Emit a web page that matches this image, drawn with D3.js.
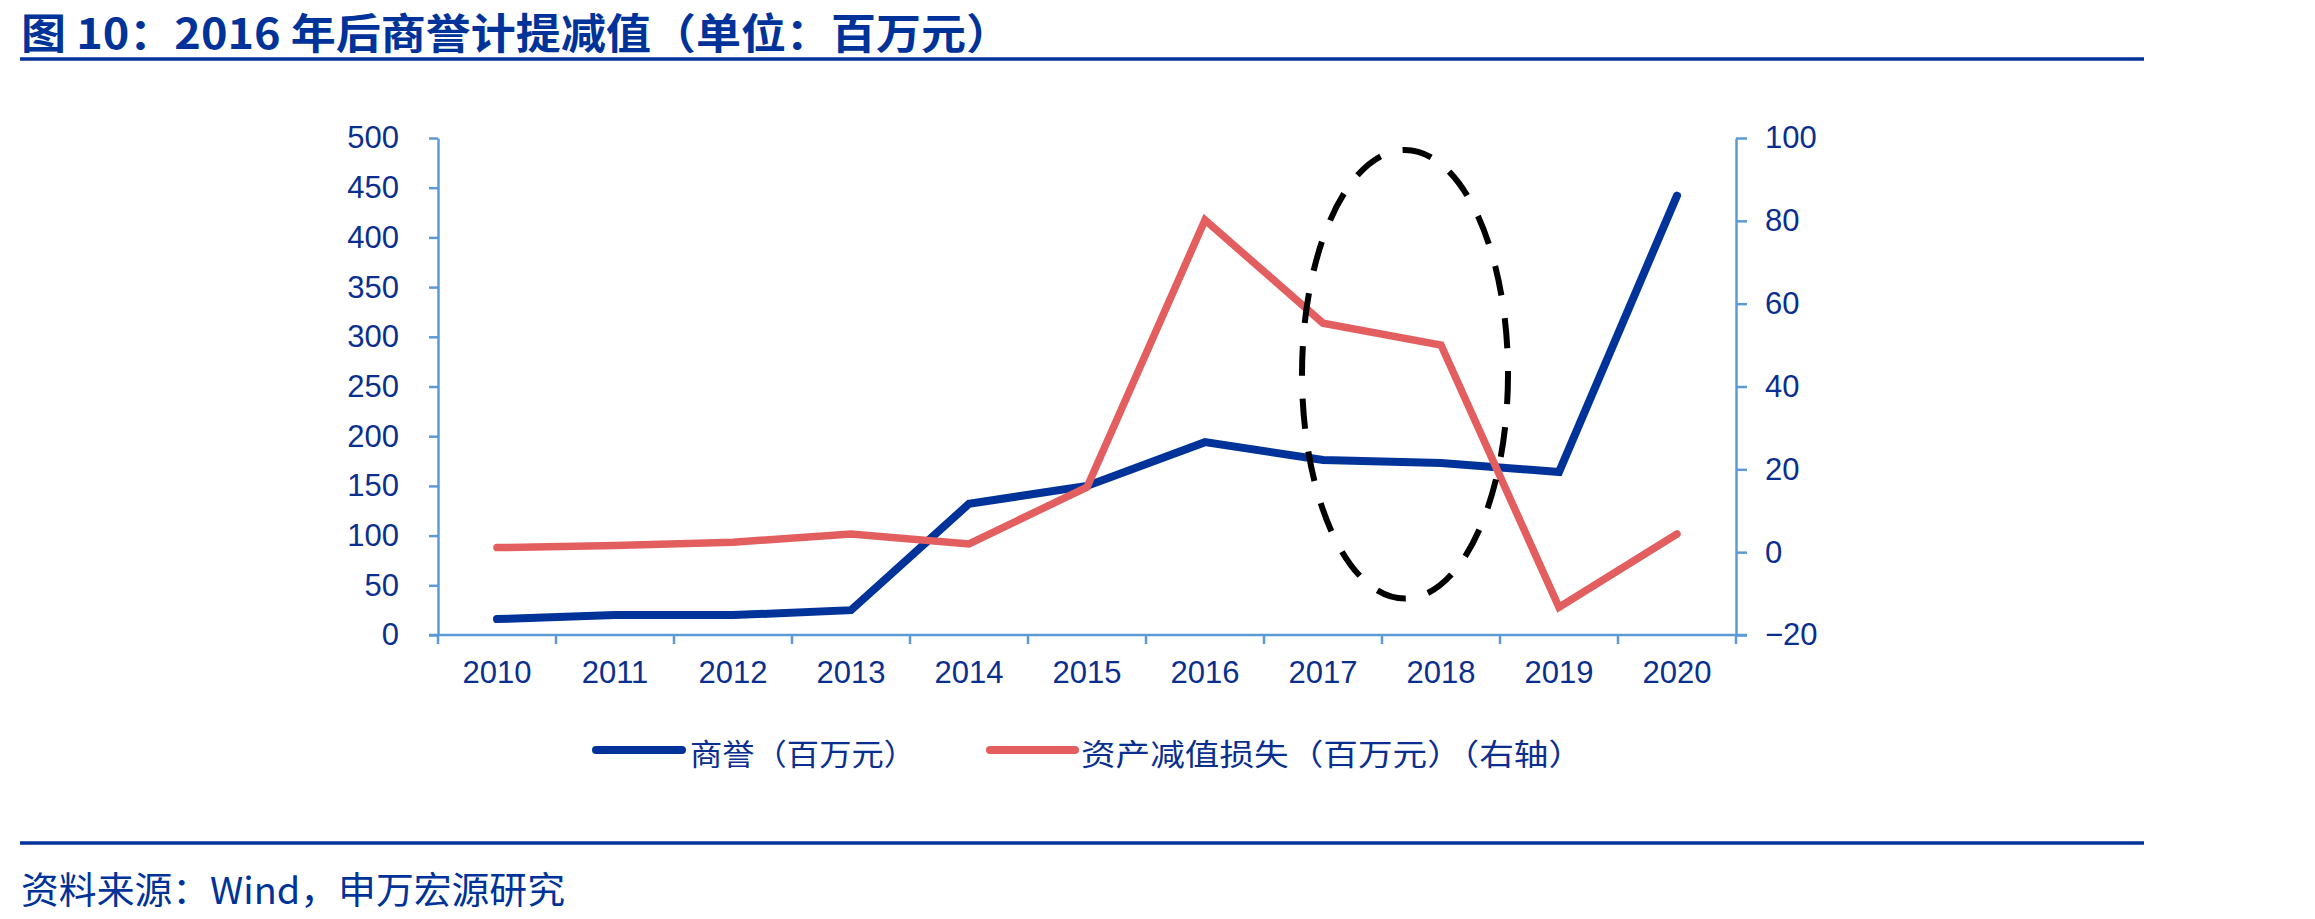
<!DOCTYPE html>
<html><head><meta charset="utf-8">
<script src="https://cdn.jsdelivr.net/npm/d3@7"></script>
<style>body{margin:0;background:#fff}svg{display:block}</style>
</head><body><svg id="c" width="2315" height="919"></svg>
<script>
// ---- data ----
const years = ["2010","2011","2012","2013","2014","2015","2016","2017","2018","2019","2020"];
const goodwill = [16, 20, 20, 25, 132, 150, 194, 176, 173, 164, 442];          // 商誉（百万元） left axis
const impairment = [1.1, 1.6, 2.4, 4.4, 2.0, 15.7, 80.2, 55.3, 50.0, -13.3, 4.4]; // 资产减值损失 right axis
const leftTicks = [0, 50, 100, 150, 200, 250, 300, 350, 400, 450, 500];
const rightTicks = [-20, 0, 20, 40, 60, 80, 100];
const titleText = "图 10：2016 年后商誉计提减值（单位：百万元）";
const legendLabels = ["商誉（百万元）", "资产减值损失（百万元）（右轴）"];
const sourceText = "资料来源：Wind，申万宏源研究";
// highlight region (2017-2018) in right-axis units
const highlightYears = ["2017", "2018"];
const highlightRange = [-11.2, 97.1];

// ---- styles ----
const navy = "#003399", red = "#e35f5f", axisCol = "#5b9bd5", textCol = "#0a2f8f";
const cjk = "'Noto Sans CJK SC','Noto Sans',sans-serif";
const latin = "'Liberation Sans',Arial,sans-serif";

const svg = d3.select("#c");
svg.append("rect").attr("width", 2315).attr("height", 919).attr("fill", "#fff");

// title
svg.append("text").attr("x", 21).attr("y", 30).attr("dominant-baseline", "central")
  .attr("font-family", cjk).attr("font-weight", 700).attr("font-size", 42)
  .attr("fill", navy).attr("textLength", 990).attr("lengthAdjust", "spacingAndGlyphs")
  .text(titleText);
svg.append("line").attr("x1", 20).attr("x2", 2144).attr("y1", 59).attr("y2", 59)
  .attr("stroke", navy).attr("stroke-width", 3.5);

// footer
svg.append("line").attr("x1", 20).attr("x2", 2144).attr("y1", 843).attr("y2", 843)
  .attr("stroke", navy).attr("stroke-width", 3.5);
svg.append("text").attr("x", 21).attr("y", 888).attr("dominant-baseline", "central")
  .attr("font-family", cjk).attr("font-size", 37).attr("fill", navy)
  .attr("textLength", 544).attr("lengthAdjust", "spacingAndGlyphs")
  .text(sourceText);

// scales
const x = d3.scaleBand().domain(years).range([438, 1736]).padding(0);
const xc = d => x(d) + x.bandwidth() / 2;
const yL = d3.scaleLinear().domain([0, 500]).range([635, 138]);
const yR = d3.scaleLinear().domain([-20, 100]).range([635, 138]);

function styleAxis(g) {
  g.selectAll("path.domain").attr("stroke", axisCol).attr("stroke-width", 2.5);
  g.selectAll(".tick line").attr("stroke", axisCol).attr("stroke-width", 2.5);
  g.selectAll(".tick text").attr("fill", textCol).attr("font-family", latin).attr("font-size", 31);
}

// left axis
const gL = svg.append("g").attr("transform", "translate(438,0)")
  .call(d3.axisLeft(yL).tickValues(leftTicks).tickSize(9).tickPadding(30).tickSizeOuter(0));
styleAxis(gL);
// right axis
const gR = svg.append("g").attr("transform", "translate(1736,0)")
  .call(d3.axisRight(yR).tickValues(rightTicks).tickSize(11).tickPadding(18).tickSizeOuter(0));
styleAxis(gR);

// x axis: labels at band centres, ticks at band boundaries
const gX = svg.append("g").attr("transform", "translate(0,635)")
  .call(d3.axisBottom(x).tickSize(0).tickPadding(26).tickSizeOuter(0));
styleAxis(gX);
gX.select("path.domain").attr("d", `M429,0H1747`);
gX.selectAll(".tick text").attr("dy", "0.71em");
const bounds = years.map(d => x(d)).concat([x(years[years.length - 1]) + x.bandwidth()]);
gX.selectAll("line.bt").data(bounds).join("line").attr("class", "bt")
  .attr("x1", d => d).attr("x2", d => d).attr("y1", 0).attr("y2", 9)
  .attr("stroke", axisCol).attr("stroke-width", 2.5);

// lines
const lineL = d3.line().x((d, i) => xc(years[i])).y(d => yL(d));
const lineR = d3.line().x((d, i) => xc(years[i])).y(d => yR(d));
svg.append("path").datum(goodwill).attr("d", lineL).attr("fill", "none")
  .attr("stroke", navy).attr("stroke-width", 8).attr("stroke-linecap", "round").attr("stroke-linejoin", "miter");
svg.append("path").datum(impairment).attr("d", lineR).attr("fill", "none")
  .attr("stroke", red).attr("stroke-width", 7.5).attr("stroke-linecap", "round").attr("stroke-linejoin", "miter");

// dashed ellipse annotation
const ex0 = xc(highlightYears[0]), ex1 = xc(highlightYears[1]);
const ecx = (ex0 + ex1) / 2 + 23;
const ecy = (yR(highlightRange[0]) + yR(highlightRange[1])) / 2;
svg.append("ellipse").attr("cx", ecx).attr("cy", ecy)
  .attr("rx", 103).attr("ry", (yR(highlightRange[0]) - yR(highlightRange[1])) / 2)
  .attr("fill", "none").attr("stroke", "#000").attr("stroke-width", 6)
  .attr("stroke-dasharray", "30,23");

// legend
const legend = [
  { label: legendLabels[0], color: navy, x1: 596, x2: 682, tx: 690, tl: 226 },
  { label: legendLabels[1], color: red, x1: 990, x2: 1075, tx: 1081, tl: 502 }
];
const lg = svg.append("g");
legend.forEach(l => {
  lg.append("line").attr("x1", l.x1).attr("x2", l.x2).attr("y1", 750).attr("y2", 750)
    .attr("stroke", l.color).attr("stroke-width", 8).attr("stroke-linecap", "round");
  lg.append("text").attr("x", l.tx).attr("y", 752).attr("dominant-baseline", "central")
    .attr("font-family", cjk).attr("font-size", 30).attr("fill", textCol)
    .attr("textLength", l.tl).attr("lengthAdjust", "spacingAndGlyphs").text(l.label);
});
</script>
</body></html>
